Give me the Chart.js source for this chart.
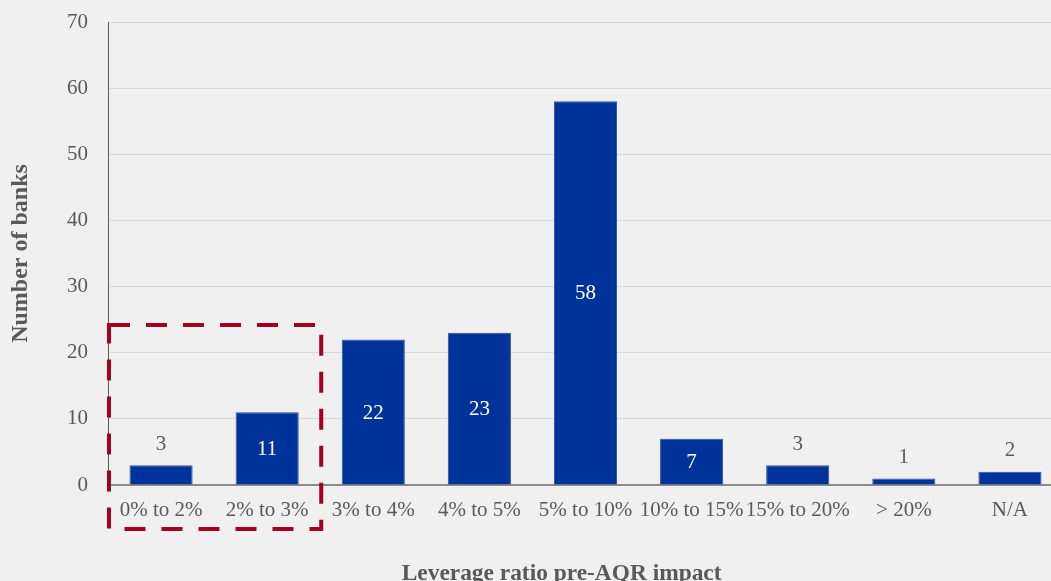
<!DOCTYPE html>
<html>
<head>
<meta charset="utf-8">
<script src="https://cdn.jsdelivr.net/npm/chart.js@4/dist/chart.umd.min.js"></script>
<style>
  html, body { margin: 0; padding: 0; background: #f0f0f0; overflow: hidden; }
  #wrap { position: absolute; left: 0; top: 0; }
</style>
</head>
<body>
<div id="wrap"><canvas id="bankChart" width="1063" height="588"></canvas></div>
<script>
// categories and values
const categories = ['0% to 2%', '2% to 3%', '3% to 4%', '4% to 5%', '5% to 10%', '10% to 15%', '15% to 20%', '> 20%', 'N/A'];
const bankCounts = [3, 11, 22, 23, 58, 7, 3, 1, 2];
const yTicks = [0, 10, 20, 30, 40, 50, 60, 70];
const xTitle = 'Leverage ratio pre-AQR impact';

const textGrey = '#595959';
const barBlue = '#003399';
const fontFamily = "'Liberation Serif', 'Times New Roman', serif";

// numbers on/above each bar
const valueLabels = {
    id: 'valueLabels',
    afterDatasetsDraw(chart) {
        const ctx = chart.ctx;
        const meta = chart.getDatasetMeta(0);
        ctx.save();
        ctx.font = '21px ' + fontFamily;
        ctx.textAlign = 'center';
        ctx.textBaseline = 'middle';
        meta.data.forEach((bar, i) => {
            const v = bankCounts[i];
            if (v < 5) {
                ctx.fillStyle = textGrey;
                ctx.fillText(v, bar.x, bar.y - 21);
            } else {
                ctx.fillStyle = '#ffffff';
                ctx.fillText(v, bar.x, (bar.y + bar.base) / 2 + 1);
            }
        });
        ctx.restore();
    }
};

// x axis title sits a bit left of the plot centre in the original
const xAxisTitle = {
    id: 'xAxisTitle',
    afterDraw(chart) {
        const ctx = chart.ctx;
        const area = chart.chartArea;
        ctx.save();
        ctx.font = 'bold 23.4px ' + fontFamily;
        ctx.fillStyle = textGrey;
        ctx.textAlign = 'center';
        ctx.textBaseline = 'middle';
        ctx.fillText(xTitle, area.left + area.width * 0.475, 574);
        ctx.restore();
    }
};

// red dashed box around the first two groups
const highlightBox = {
    id: 'highlightBox',
    afterDraw(chart) {
        const x = chart.scales.x;
        const y = chart.scales.y;
        const ctx = chart.ctx;
        const left = x.getPixelForValue(-0.5) + 1;
        const right = x.getPixelForValue(1.5) + 1;
        const top = y.getPixelForValue(24.2);
        const bottom = y.getPixelForValue(-6.65);
        ctx.save();
        ctx.strokeStyle = '#a50021';
        ctx.lineWidth = 4;
        ctx.setLineDash([21, 16]);
        ctx.strokeRect(left, top, right - left, bottom - top);
        ctx.restore();
    }
};

const ctx = document.getElementById('bankChart').getContext('2d');
new Chart(ctx, {
    type: 'bar',
    data: {
        labels: categories,
        datasets: [{
            data: bankCounts,
            backgroundColor: barBlue,
            borderColor: '#2a52a8',
            borderWidth: 1,
            barPercentage: 0.595,
            categoryPercentage: 1
        }]
    },
    options: {
        responsive: false,
        animation: false,
        layout: { padding: { top: 22, right: 0, bottom: 0, left: 0 } },
        plugins: {
            legend: { display: false },
            tooltip: { enabled: false }
        },
        scales: {
            x: {
                grid: { display: false, drawTicks: false },
                border: { display: true, color: '#8c8c8c', width: 2 },
                ticks: {
                    color: textGrey,
                    padding: 13,
                    maxRotation: 0,
                    autoSkip: false,
                    font: { family: fontFamily, size: 21 }
                },
                afterFit(scale) { scale.height = 103; }
            },
            y: {
                min: 0,
                max: 70,
                afterBuildTicks(scale) { scale.ticks = yTicks.map(v => ({ value: v })); },
                grid: { color: '#d9d9d9', lineWidth: 1, drawTicks: false },
                border: { display: true, color: textGrey, width: 1 },
                ticks: {
                    color: textGrey,
                    padding: 20,
                    font: { family: fontFamily, size: 21 }
                },
                title: {
                    display: true,
                    text: 'Number of banks',
                    color: textGrey,
                    padding: { top: 6, bottom: 0 },
                    font: { family: fontFamily, size: 24, weight: 'bold' }
                },
                afterFit(scale) {
                    scale.width = 108;
                    scale.paddingTop = 0;
                    scale.paddingBottom = 0;
                }
            }
        }
    },
    plugins: [valueLabels, xAxisTitle, highlightBox]
});
</script>
</body>
</html>
